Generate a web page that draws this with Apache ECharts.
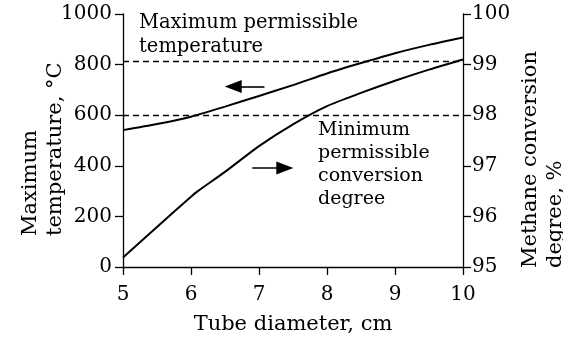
<!DOCTYPE html>
<html>
<head>
<meta charset="utf-8">
<script src="https://cdn.jsdelivr.net/npm/echarts@6/dist/echarts.min.js"></script>
<style>
  html, body { margin: 0; padding: 0; background: #fff; }
  #chart { width: 563px; height: 341px; }
</style>
</head>
<body>
<div id="chart"></div>
<script>
// tube diameter, cm
const diameters = [5, 5.5, 6, 6.5, 7, 7.5, 8, 8.5, 9, 9.5, 10];
// maximum temperature, °C (left axis)
const maxTemperature = [541, 565, 594, 634, 676, 719, 765, 806, 845, 878, 907];
// methane conversion degree, % (right axis)
const conversionDiameters = [5, 5.5, 6, 6.1, 6.5, 7, 7.5, 8, 8.5, 9, 9.5, 10];
const conversion = [95.19, 95.79, 96.39, 96.5, 96.88, 97.39, 97.82, 98.18, 98.44, 98.68, 98.9, 99.1];
// limits
const maxPermissibleTemp = 812;
const minPermissibleTemp = 600; // same level as 98 % on the right scale
const xTicks = [5, 10, 1];
const tempTicks = [0, 1000, 200];
const convTicks = [95, 100, 1];

const FONT = 'DejaVu Serif';
const chart = echarts.init(document.getElementById('chart'));

const axisCommon = {
  axisLine: { show: true, lineStyle: { color: '#000', width: 1.3 } },
  axisTick: { show: true, inside: false, length: 8, lineStyle: { color: '#000', width: 1.3 } },
  splitLine: { show: false },
  axisLabel: { color: '#000', fontFamily: FONT, fontSize: 20 }
};

const option = {
  animation: false,
  backgroundColor: '#fff',
  grid: { left: 123, right: 100, top: 14, bottom: 74 },
  xAxis: {
    type: 'value',
    min: xTicks[0], max: xTicks[1], interval: xTicks[2],
    name: 'Tube diameter, cm',
    nameLocation: 'middle',
    nameGap: 47,
    nameTextStyle: { color: '#000', fontFamily: FONT, fontSize: 21 },
    ...axisCommon,
    axisLabel: { ...axisCommon.axisLabel, margin: 18 }
  },
  yAxis: [
    {
      type: 'value',
      position: 'left',
      min: tempTicks[0], max: tempTicks[1], interval: tempTicks[2],
      ...axisCommon,
      axisLabel: { ...axisCommon.axisLabel, margin: 11, formatter: v => String(v) }
    },
    {
      type: 'value',
      position: 'right',
      min: convTicks[0], max: convTicks[1], interval: convTicks[2],
      ...axisCommon,
      axisLabel: { ...axisCommon.axisLabel, margin: 9 }
    }
  ],
  series: [
    {
      name: 'Maximum temperature',
      type: 'line',
      yAxisIndex: 0,
      smooth: 0.25,
      symbol: 'none',
      lineStyle: { color: '#000', width: 2 },
      data: diameters.map((d, i) => [d, maxTemperature[i]]),
      markLine: {
        silent: true,
        symbol: 'none',
        label: { show: false },
        lineStyle: { color: '#000', type: [6, 4], width: 1.4 },
        data: [
          { yAxis: maxPermissibleTemp },
          { yAxis: minPermissibleTemp }
        ]
      }
    },
    {
      name: 'Methane conversion degree',
      type: 'line',
      yAxisIndex: 1,
      smooth: 0.25,
      symbol: 'none',
      lineStyle: { color: '#000', width: 2 },
      data: conversionDiameters.map((d, i) => [d, conversion[i]])
    },
    {
      // direction arrows pointing to the axis each curve belongs to
      type: 'line',
      yAxisIndex: 0,
      data: [],
      markLine: {
        silent: true,
        symbol: ['none', 'triangle'],
        symbolSize: [13, 17],
        label: { show: false },
        lineStyle: { color: '#000', type: 'solid', width: 1.6 },
        data: [
          [{ coord: [7.08, 713] }, { coord: [6.62, 713] }],
          [{ coord: [6.9, 391] }, { coord: [7.38, 391] }]
        ]
      }
    }
  ],
  graphic: [
    {
      type: 'text', left: 139, top: 11,
      style: { text: 'Maximum permissible\ntemperature', fill: '#000', font: '19.5px "DejaVu Serif"', lineHeight: 24 }
    },
    {
      type: 'text', left: 318, top: 119,
      style: { text: 'Minimum\npermissible\nconversion\ndegree', fill: '#000', font: '19px "DejaVu Serif"', lineHeight: 23 }
    },
    {
      type: 'text', x: 43, y: 236, rotation: Math.PI / 2,
      style: { text: 'Maximum\ntemperature, °C', fill: '#000', font: '21px "DejaVu Serif"', lineHeight: 25, textAlign: 'left', textVerticalAlign: 'middle' }
    },
    {
      type: 'text', x: 543, y: 268, rotation: Math.PI / 2,
      style: { text: 'Methane conversion\ndegree, %', fill: '#000', font: '21px "DejaVu Serif"', lineHeight: 25, textAlign: 'left', textVerticalAlign: 'middle' }
    }
  ]
};

chart.setOption(option);
</script>
</body>
</html>
